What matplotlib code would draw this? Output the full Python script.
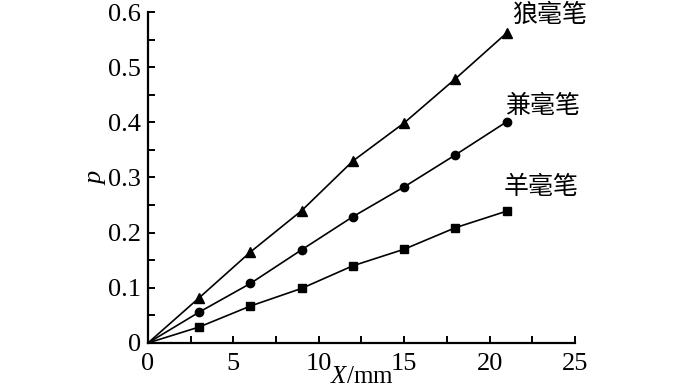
import matplotlib
matplotlib.use('Agg')
import matplotlib.pyplot as plt
from matplotlib.ticker import MultipleLocator

plt.rcParams['font.family'] = ['Liberation Serif', 'Noto Sans CJK SC']
plt.rcParams['mathtext.fontset'] = 'custom'
plt.rcParams['mathtext.it'] = 'Liberation Serif:italic'
plt.rcParams['mathtext.rm'] = 'Liberation Serif'

# data
x = [0, 3, 6, 9, 12, 15, 18, 21]
wolf = [0, 0.082, 0.165, 0.240, 0.330, 0.399, 0.479, 0.562]   # 狼毫笔
mixed = [0, 0.056, 0.108, 0.169, 0.229, 0.283, 0.341, 0.401]  # 兼毫笔
goat = [0, 0.029, 0.067, 0.099, 0.140, 0.170, 0.209, 0.239]   # 羊毫笔
names = ['狼毫笔', '兼毫笔', '羊毫笔']
label_pos = [(23.5, 0.594), (23.1, 0.430), (23.0, 0.282)]
yticks = [0, 0.1, 0.2, 0.3, 0.4, 0.5, 0.6]
yticklabels = ['0', '0.1', '0.2', '0.3', '0.4', '0.5', '0.6']
xticks = [0, 5, 10, 15, 20, 25]

fig = plt.figure(figsize=(7, 3.91), dpi=100)
ax = fig.add_axes([0.2114, 0.1228, 0.61, 0.8465])

series = [wolf, mixed, goat]
markers = ['^', 'o', 's']
msizes = [7.5, 6, 6]
for ys, m, ms in zip(series, markers, msizes):
    ax.plot(x, ys, color='black', lw=1.2, marker=m, markersize=ms,
            markevery=list(range(1, len(x))), clip_on=False, zorder=3)

for name, (tx, ty) in zip(names, label_pos):
    ax.text(tx, ty, name, ha='center', va='center', fontsize=18,
            family=['Noto Sans CJK SC'], clip_on=False)

ax.set_xlim(0, 25)
ax.set_ylim(0, 0.6)
ax.set_xticks(xticks)
ax.set_xticklabels([str(t) for t in xticks])
ax.set_yticks(yticks)
ax.set_yticklabels(yticklabels)
ax.xaxis.set_minor_locator(MultipleLocator(2.5))
ax.yaxis.set_minor_locator(MultipleLocator(0.05))

ax.spines['top'].set_visible(False)
ax.spines['right'].set_visible(False)
for s in ['left', 'bottom']:
    ax.spines[s].set_linewidth(1.6)
ax.tick_params(which='both', direction='in', length=5, width=1.4,
               labelsize=19, top=False, right=False)
ax.tick_params(axis='y', pad=5)
ax.tick_params(axis='x', pad=7)

ax.set_xlabel('$X$/mm', fontsize=18, labelpad=-6)
ax.set_ylabel('$p$', fontsize=19, labelpad=0)

fig.savefig('out.png', dpi=100)
